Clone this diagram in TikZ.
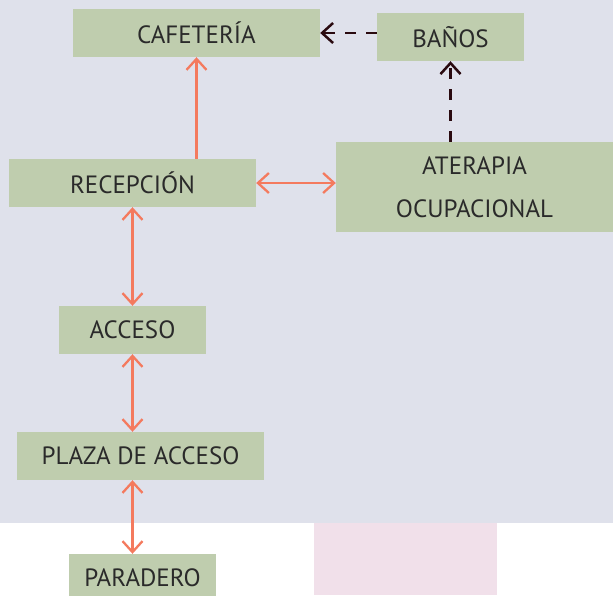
\documentclass[tikz,border=0pt]{standalone}
\usepackage{fontspec}
\setmainfont{PT Sans}
\usepackage{xcolor}
\usetikzlibrary{positioning, arrows.meta, calc}
\definecolor{lavender}{HTML}{DFE1EB}
\definecolor{blush}{HTML}{F1E0EA}
\definecolor{sage}{HTML}{BFCDAE}
\definecolor{coral}{HTML}{F47A5E}
\definecolor{maroon}{HTML}{2A0A10}
\definecolor{textmain}{HTML}{2A2A2A}

\begin{document}
\begin{tikzpicture}[
    x=1pt, y=-1pt,
    zone/.style={rectangle, fill=sage, text=textmain, inner sep=0pt,
                 minimum height=48pt, align=center,
                 font=\fontsize{25}{43}\selectfont},
    wide/.style={zone, minimum width=247pt},
    narrow/.style={zone, minimum width=147pt},
    link/.style={{Straight Barb[length=11pt,width=20pt]}-{Straight Barb[length=11pt,width=20pt]},
                 line width=2.3pt, coral},
    oneway/.style={-{Straight Barb[length=11pt,width=20pt]}, line width=2.3pt, coral},
    dasharrow/.style={-{Straight Barb[length=11pt,width=20pt]}, line width=2.5pt, maroon,
                      dash pattern=on 11pt off 10pt}
  ]
    \useasboundingbox (0,0) rectangle (613,595);
    \fill[lavender] (0,0) rectangle (613,523);
    \fill[blush] (314,523) rectangle (497,595);

    \node[wide] (cafeteria) at (196.5,33) {CAFETERÍA};
    \node[narrow] (banos) at (450.5,37) {BAÑOS};
    \node[wide] (recepcion) at (132.5,183) {RECEPCIÓN};
    \node[zone, minimum width=277pt, minimum height=90pt] (aterapia) at (474.5,187)
      {ATERAPIA\\OCUPACIONAL};
    \node[narrow] (acceso) at (132.5,330) {ACCESO};
    \node[wide] (plaza) at (140.5,456) {PLAZA DE ACCESO};
    \node[narrow] (paradero) at (142.5,578) {PARADERO};

    \draw[oneway] (cafeteria.south |- recepcion.north) -- (cafeteria.south);
    \draw[link] (recepcion.east) -- (recepcion.east -| aterapia.west);
    \draw[link] (recepcion.south) -- (acceso.north);
    \draw[link] (acceso.south) -- (acceso.south |- plaza.north);
    \draw[link] (acceso.south |- plaza.south) -- (acceso.south |- paradero.north);
    \draw[dasharrow] (cafeteria.east -| banos.west) -- (cafeteria.east);
    \draw[dasharrow] (banos.south |- aterapia.north) -- (banos.south);
  \end{tikzpicture}
\end{document}
